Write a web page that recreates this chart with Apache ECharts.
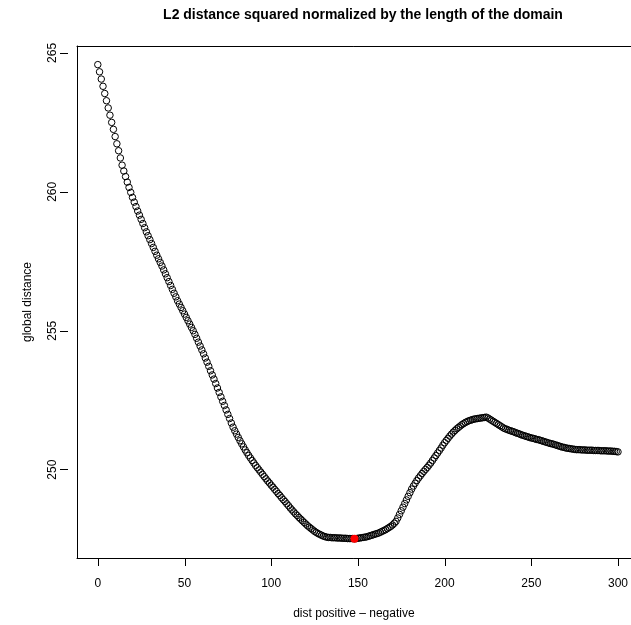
<!DOCTYPE html>
<html>
<head>
<meta charset="utf-8">
<script src="https://cdn.jsdelivr.net/npm/echarts@6/dist/echarts.min.js"></script>
<style>
  html, body { margin: 0; padding: 0; background: #fff; }
  #chart { width: 631px; height: 625px; }
</style>
</head>
<body>
<div id="chart"></div>
<script>
// distances, one per x step (0..300)
const distValues = [
  264.58, 264.32, 264.06, 263.80, 263.54, 263.28, 263.02, 262.76, 262.50, 262.25,
  261.99, 261.73, 261.48, 261.22, 260.96, 260.75, 260.55, 260.35, 260.16, 259.98,
  259.80, 259.63, 259.47, 259.31, 259.16, 259.01, 258.86, 258.71, 258.56, 258.42,
  258.28, 258.14, 258.00, 257.86, 257.72, 257.59, 257.46, 257.33, 257.19, 257.05,
  256.91, 256.77, 256.63, 256.49, 256.35, 256.22, 256.08, 255.96, 255.84, 255.72,
  255.60, 255.48, 255.36, 255.24, 255.12, 255.00, 254.87, 254.73, 254.59, 254.45,
  254.31, 254.17, 254.02, 253.87, 253.72, 253.56, 253.41, 253.26, 253.10, 252.94,
  252.78, 252.62, 252.46, 252.31, 252.15, 251.99, 251.84, 251.68, 251.53, 251.40,
  251.28, 251.16, 251.04, 250.93, 250.82, 250.71, 250.61, 250.51, 250.42, 250.33,
  250.24, 250.15, 250.07, 249.99, 249.91, 249.83, 249.75, 249.67, 249.59, 249.52,
  249.44, 249.37, 249.29, 249.22, 249.14, 249.07, 248.99, 248.92, 248.85, 248.77,
  248.70, 248.62, 248.55, 248.48, 248.41, 248.35, 248.28, 248.22, 248.16, 248.10,
  248.04, 247.98, 247.93, 247.88, 247.83, 247.78, 247.74, 247.70, 247.67, 247.64,
  247.61, 247.59, 247.57, 247.56, 247.56, 247.55, 247.55, 247.55, 247.54, 247.54,
  247.54, 247.53, 247.53, 247.53, 247.52, 247.52, 247.52, 247.52, 247.51, 247.52,
  247.53, 247.54, 247.55, 247.56, 247.57, 247.58, 247.60, 247.62, 247.64, 247.66,
  247.68, 247.70, 247.72, 247.75, 247.78, 247.81, 247.84, 247.88, 247.92, 247.96,
  248.01, 248.07, 248.14, 248.26, 248.39, 248.52, 248.65, 248.78, 248.91, 249.04,
  249.17, 249.30, 249.41, 249.51, 249.61, 249.70, 249.78, 249.86, 249.94, 250.01,
  250.08, 250.16, 250.24, 250.33, 250.42, 250.51, 250.60, 250.69, 250.78, 250.88,
  250.97, 251.05, 251.13, 251.21, 251.28, 251.35, 251.41, 251.47, 251.52, 251.57,
  251.62, 251.66, 251.70, 251.73, 251.76, 251.78, 251.80, 251.82, 251.83, 251.84,
  251.85, 251.86, 251.87, 251.88, 251.89, 251.86, 251.82, 251.78, 251.74, 251.70,
  251.66, 251.62, 251.58, 251.54, 251.50, 251.47, 251.45, 251.42, 251.40, 251.38,
  251.36, 251.33, 251.31, 251.29, 251.26, 251.24, 251.22, 251.20, 251.18, 251.16,
  251.14, 251.13, 251.11, 251.09, 251.08, 251.06, 251.04, 251.02, 251.00, 250.98,
  250.96, 250.94, 250.93, 250.91, 250.89, 250.87, 250.85, 250.83, 250.81, 250.80,
  250.78, 250.77, 250.76, 250.75, 250.74, 250.73, 250.72, 250.72, 250.72, 250.71,
  250.71, 250.71, 250.70, 250.70, 250.70, 250.70, 250.69, 250.69, 250.69, 250.69,
  250.68, 250.68, 250.68, 250.68, 250.67, 250.67, 250.67, 250.66, 250.66, 250.65,
  250.64
]
const xStart = 0
const xStep = 1

// the minimum, drawn in red
const minPoint = [148, 247.51]

const xTicks = [0, 50, 100, 150, 200, 250, 300]
const yTicks = [250, 255, 260, 265]
const yTickStep = 5

const font = "'Liberation Sans', Arial, Helvetica, sans-serif"

const points = distValues.map((v, i) => [xStart + i * xStep, v])

// R's plot box spans -12..312 over 562px; the picture is cut at the canvas edge
const box = { left: 77, top: 46, height: 512 }
const fullWidth = 562
const xLimFull = [-12, 312]
const visibleWidth = 631 - box.left
const xLim = [xLimFull[0], xLimFull[0] + visibleWidth * (xLimFull[1] - xLimFull[0]) / fullWidth]
const yLim = [246.82, 265.25]
const tickLen = 8

const yPx = v => box.top + (yLim[1] - v) / (yLim[1] - yLim[0]) * box.height

const chart = echarts.init(document.getElementById('chart'), null, { renderer: 'canvas' })

const labelStyle = { fontFamily: font, fontSize: 12, color: '#000' }
const boxLine = { show: true, onZero: false, lineStyle: { color: '#000', width: 1 } }
const hidden = { show: false }
const tickStyle = { color: '#000', width: 1 }

// x ticks: short lines hanging below the box, placed through the x scale
const renderXTick = (params, api) => {
  const p = api.coord([api.value(0), api.value(1)])
  const x = Math.round(p[0]) + 0.5
  return {
    type: 'line',
    shape: { x1: x, y1: p[1], x2: x, y2: p[1] + tickLen },
    style: { stroke: '#000', lineWidth: 1 }
  }
}

chart.setOption({
  animation: false,
  backgroundColor: '#fff',
  title: {
    text: 'L2 distance squared normalized by the length of the domain',
    left: box.left + fullWidth / 2,
    top: 3,
    textAlign: 'center',
    textStyle: { fontFamily: font, fontWeight: 'bold', fontSize: 14, color: '#000' }
  },
  grid: [
    // plot box
    { left: box.left, top: box.top, width: visibleWidth, height: box.height, show: false },
    // thin strip left of the box for the y ticks
    { left: box.left - tickLen - 1, width: tickLen + 1,
      top: yPx(yTicks[yTicks.length - 1]), height: yPx(yTicks[0]) - yPx(yTicks[yTicks.length - 1]), show: false }
  ],
  xAxis: [
    {
      gridIndex: 0, type: 'value', min: xLim[0], max: xLim[1], position: 'bottom',
      name: 'dist positive \u2013 negative', nameLocation: 'middle', nameGap: 50,
      nameTextStyle: labelStyle,
      axisLine: boxLine, axisTick: hidden, splitLine: hidden,
      axisLabel: Object.assign({ customValues: xTicks, margin: 20 }, labelStyle)
    },
    {
      gridIndex: 0, type: 'value', min: xLim[0], max: xLim[1], position: 'top',
      axisLine: boxLine, axisTick: hidden, axisLabel: hidden, splitLine: hidden
    },
    {
      gridIndex: 1, type: 'value', min: 0, max: 1, show: false
    }
  ],
  yAxis: [
    {
      gridIndex: 0, type: 'value', min: yLim[0], max: yLim[1], position: 'left',
      name: 'global distance', nameLocation: 'middle', nameRotate: 90, nameGap: 43,
      nameTextStyle: labelStyle,
      axisLine: boxLine, axisTick: hidden, splitLine: hidden,
      axisLabel: Object.assign({ customValues: yTicks, rotate: 90, margin: 18 }, labelStyle)
    },
    {
      gridIndex: 1, type: 'value', min: yTicks[0], max: yTicks[yTicks.length - 1], interval: yTickStep,
      position: 'right',
      axisLine: hidden, axisLabel: hidden, splitLine: hidden,
      axisTick: { show: true, inside: true, length: tickLen, lineStyle: tickStyle }
    }
  ],
  series: [
    {
      type: 'scatter',
      xAxisIndex: 0,
      yAxisIndex: 0,
      data: points,
      symbol: 'circle',
      symbolSize: 6.5,
      itemStyle: { color: 'transparent', borderColor: '#000', borderWidth: 1, opacity: 1 },
      emphasis: { disabled: true }
    },
    {
      type: 'scatter',
      xAxisIndex: 0,
      yAxisIndex: 0,
      data: [minPoint],
      symbol: 'circle',
      symbolSize: 8,
      itemStyle: { color: '#ff0000', opacity: 1 },
      z: 3
    },
    {
      type: 'custom',
      xAxisIndex: 0,
      yAxisIndex: 0,
      data: xTicks.map(v => [v, yLim[0]]),
      renderItem: renderXTick,
      clip: false,
      silent: true,
      z: 4
    }
  ]
})
</script>
</body>
</html>
